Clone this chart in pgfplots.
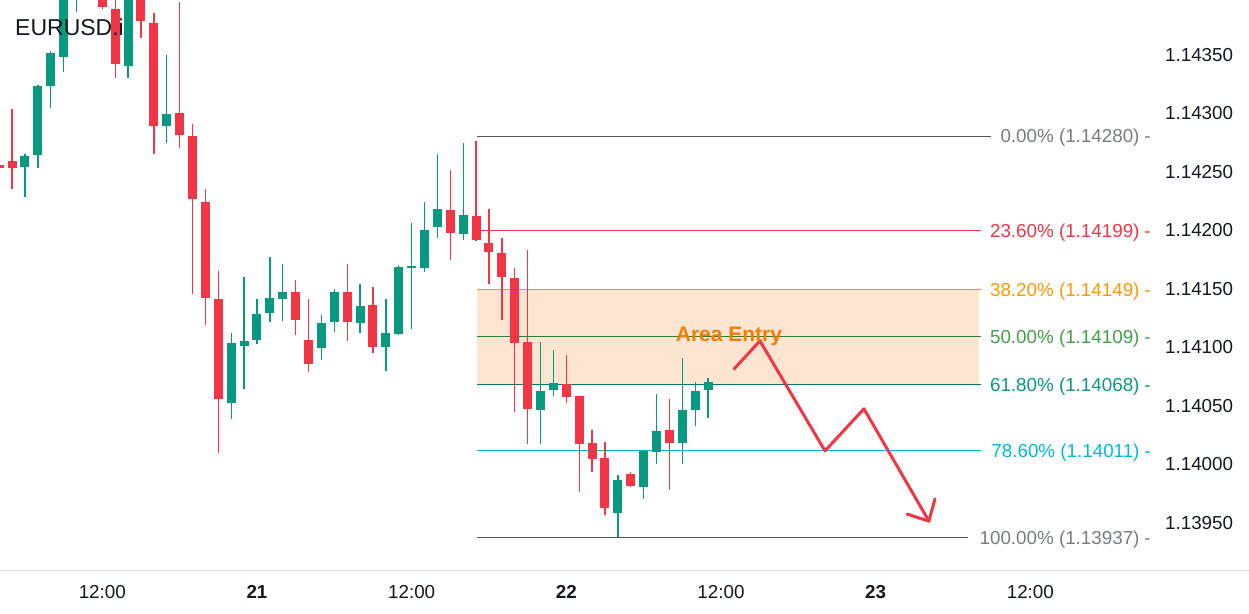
\documentclass[border=0pt]{standalone}
\usepackage{pgfplots}
\pgfplotsset{compat=1.18}
\usepackage{pgfplotstable}
\usepackage{fontspec}
\setmainfont{Liberation Sans}
\definecolor{upc}{HTML}{089981}
\definecolor{dnc}{HTML}{F23645}
\definecolor{fibgray}{HTML}{787B86}
\definecolor{fibgrayl}{HTML}{50535E}
\definecolor{fiborange}{HTML}{FF9800}
\definecolor{fibgreen}{HTML}{43A047}
\definecolor{fibgreenl}{HTML}{2E7D32}
\definecolor{fibteal}{HTML}{089981}
\definecolor{fibteall}{HTML}{00796B}
\definecolor{fibcyan}{HTML}{00BCD4}
\definecolor{zone}{HTML}{FDE5D2}
\definecolor{txt}{HTML}{131722}
\definecolor{areac}{HTML}{F57C00}
\definecolor{gridc}{HTML}{E0E3EB}

% hourly candles, h = hours from 21 00:00
\pgfplotstableread{
h O H L C
-18 1.14254 1.14265 1.14228 1.14263
-17 1.14264 1.14324 1.14253 1.14323
-16 1.14323 1.14353 1.14304 1.14351
-15 1.14348 1.14409 1.14335 1.14401
-14 1.14401 1.14430 1.14386 1.14422
-13 1.14422 1.14450 1.14405 1.14440
-10 1.14340 1.14412 1.14330 1.14403
-7 1.14289 1.14349 1.14274 1.14299
-2 1.14052 1.14112 1.14038 1.14103
-1 1.14101 1.14160 1.14064 1.14105
0 1.14106 1.14141 1.14102 1.14128
1 1.14129 1.14177 1.14121 1.14142
2 1.14141 1.14171 1.14122 1.14147
5 1.14099 1.14127 1.14089 1.14120
6 1.14121 1.14149 1.14113 1.14147
8 1.14120 1.14154 1.14112 1.14135
10 1.14100 1.14141 1.14079 1.14112
11 1.14111 1.14170 1.14110 1.14168
12 1.14167 1.14206 1.14115 1.14169
13 1.14167 1.14224 1.14164 1.14200
14 1.14202 1.14265 1.14193 1.14218
16 1.14196 1.14274 1.14191 1.14213
22 1.14046 1.14104 1.14017 1.14062
23 1.14063 1.14097 1.14058 1.14069
28 1.13958 1.13990 1.13937 1.13986
30 1.13980 1.14012 1.13970 1.14011
31 1.14010 1.14060 1.14000 1.14028
33 1.14018 1.14090 1.14000 1.14046
34 1.14046 1.14070 1.14032 1.14062
35 1.14063 1.14073 1.14039 1.14070
}\upt

\pgfplotstableread{
h O H L C
-20 1.14255 1.14288 1.14238 1.14253
-19 1.14259 1.14303 1.14235 1.14253
-12 1.14420 1.14432 1.14389 1.14390
-11 1.14389 1.14405 1.14330 1.14342
-9 1.14400 1.14408 1.14364 1.14378
-8 1.14377 1.14385 1.14265 1.14289
-6 1.14300 1.14395 1.14270 1.14281
-5 1.14280 1.14290 1.14145 1.14226
-4 1.14224 1.14235 1.14119 1.14142
-3 1.14141 1.14165 1.14009 1.14055
3 1.14147 1.14157 1.14110 1.14123
4 1.14106 1.14141 1.14078 1.14085
7 1.14147 1.14171 1.14105 1.14121
9 1.14136 1.14151 1.14095 1.14100
15 1.14217 1.14251 1.14174 1.14197
17 1.14212 1.14276 1.14190 1.14191
18 1.14189 1.14218 1.14154 1.14181
19 1.14180 1.14193 1.14123 1.14160
20 1.14159 1.14167 1.14044 1.14103
21 1.14104 1.14183 1.14017 1.14047
24 1.14068 1.14093 1.14052 1.14057
25 1.14058 1.14058 1.13976 1.14017
26 1.14018 1.14029 1.13993 1.14004
27 1.14005 1.14019 1.13956 1.13962
29 1.13991 1.13993 1.13980 1.13981
32 1.14029 1.14055 1.13978 1.14018
}\dnt

\newcommand{\lblfont}{\fontsize{18.8}{21}\selectfont}
\tikzset{fiblbl/.style={anchor=east, inner sep=0pt, font=\lblfont, yshift=-2pt}}

\begin{document}
\begin{tikzpicture}
\useasboundingbox (0pt,0pt) rectangle (1249pt,613pt);
\begin{axis}[
  at={(0pt,42.5pt)}, anchor=south west,
  scale only axis, width=1150pt, height=570.5pt,
  xmin=-19.938, xmax=69.279,
  ymin=1.139088, ymax=1.143963,
  clip mode=individual,
  axis x line*=bottom, axis y line*=right,
  axis line style={draw=none},
  tick style={draw=none},
  scaled y ticks=false, scaled x ticks=false,
  xtick={-12,0,12,24,36,48,60},
  xticklabels={12:00,\textbf{21},12:00,\textbf{22},12:00,\textbf{23},12:00},
  ytick={1.1395,1.14,1.1405,1.141,1.1415,1.142,1.1425,1.143,1.1435},
  yticklabels={1.13950,1.14000,1.14050,1.14100,1.14150,1.14200,1.14250,1.14300,1.14350},
  ticklabel style={font=\lblfont, text=txt, inner sep=0pt},
  xticklabel style={anchor=center, yshift=-21.5pt},
  yticklabel style={anchor=west, xshift=15pt, yshift=-0.5pt},
  candle/.style={draw=none, mark=none, forget plot,
    error bars/.cd, y dir=plus, y explicit, error mark=none},
]
% entry zone 38.2% - 61.8%
\addplot[fill=zone, draw=none, forget plot] coordinates {(17.1,1.14149) (56.0,1.14149) (56.0,1.14068) (17.1,1.14068)} -- cycle;

% fibonacci levels
\addplot[fibgrayl, line width=1pt, forget plot] coordinates {(17.1,1.14280) (56.94,1.14280)};
\addplot[dnc, line width=1pt, forget plot] coordinates {(17.1,1.14199) (56.17,1.14199)};
\addplot[fiborange, line width=1pt, forget plot] coordinates {(17.1,1.14149) (56.17,1.14149)};
\addplot[fibgreenl, line width=1pt, forget plot] coordinates {(17.1,1.14109) (56.17,1.14109)};
\addplot[fibteall, line width=1pt, forget plot] coordinates {(17.1,1.14068) (56.17,1.14068)};
\addplot[fibcyan, line width=1pt, forget plot] coordinates {(17.1,1.14011) (56.17,1.14011)};
\addplot[fibgrayl, line width=1pt, forget plot] coordinates {(17.1,1.13937) (55.16,1.13937)};

% candles: wicks
\addplot[candle, error bar style={draw=upc, line width=1.3pt}]
  table[x=h, y=L, y error plus expr=\thisrow{H}-\thisrow{L}] {\upt};
\addplot[candle, error bar style={draw=dnc, line width=1.3pt}]
  table[x=h, y=L, y error plus expr=\thisrow{H}-\thisrow{L}] {\dnt};
% candles: bodies
\addplot[candle, error bar style={draw=upc, line width=9pt}]
  table[x=h, y=O, y error plus expr=\thisrow{C}-\thisrow{O}] {\upt};
\addplot[candle, error bar style={draw=dnc, line width=9pt}]
  table[x=h, y=C, y error plus expr=\thisrow{O}-\thisrow{C}] {\dnt};

% projected path
\addplot[dnc, line width=3pt, line join=round, line cap=round, forget plot] coordinates {(37.01,1.14081) (39.02,1.14105) (44.07,1.14011) (47.09,1.14047) (52.13,1.13951)};
\addplot[dnc, line width=3pt, line join=round, line cap=round, forget plot] coordinates {(50.43,1.13957) (52.13,1.13951) (52.60,1.13970)};

% labels
\node[fiblbl, text=fibgray] at (axis cs:69.36,1.14280) {0.00\% (1.14280)\hspace{5pt}-};
\node[fiblbl, text=dnc] at (axis cs:69.36,1.14199) {23.60\% (1.14199)\hspace{5pt}-};
\node[fiblbl, text=fiborange] at (axis cs:69.36,1.14149) {38.20\% (1.14149)\hspace{5pt}-};
\node[fiblbl, text=fibgreen] at (axis cs:69.36,1.14109) {50.00\% (1.14109)\hspace{5pt}-};
\node[fiblbl, text=fibteal] at (axis cs:69.36,1.14068) {61.80\% (1.14068)\hspace{5pt}-};
\node[fiblbl, text=fibcyan] at (axis cs:69.36,1.14011) {78.60\% (1.14011)\hspace{5pt}-};
\node[fiblbl, text=fibgray] at (axis cs:69.36,1.13937) {100.00\% (1.13937)\hspace{5pt}-};
\node[inner sep=0pt, font=\bfseries\fontsize{21}{23}\selectfont, text=areac, yshift=-2.5pt] at (axis cs:36.62,1.14111) {Area Entry};
\end{axis}
\draw[gridc, line width=1pt] (0pt,42.5pt) -- (1249pt,42.5pt);
\node[anchor=west, inner sep=0pt, font=\fontsize{23}{25}\selectfont, text=txt] at (15pt,586pt) {EURUSD.i};
\end{tikzpicture}
\end{document}
